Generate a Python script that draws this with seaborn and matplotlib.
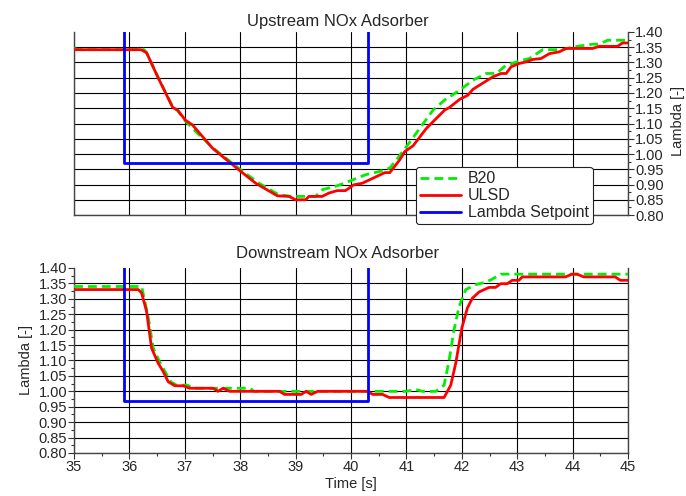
import numpy as np
import pandas as pd
import matplotlib
matplotlib.use("Agg")
import matplotlib.pyplot as plt
from matplotlib.ticker import MultipleLocator, FormatStrFormatter
import seaborn as sns

# ---------------- data ----------------
up_ulsd_t = [35.0, 36.21, 36.31, 36.51, 36.78, 36.87, 37.01, 37.14, 37.50, 37.68, 38.01, 38.28,
             38.67, 38.88, 39.00, 39.18, 39.24, 39.48, 39.60, 39.75, 39.90, 40.05, 40.20, 40.40,
             40.61, 40.70, 40.88, 40.97, 41.12, 41.36, 41.69, 41.78, 41.96, 42.11, 42.20, 42.56,
             42.71, 42.80, 42.89, 43.04, 43.16, 43.28, 43.43, 43.58, 43.76, 43.88, 44.36, 44.48,
             44.81, 44.90, 45.0]
up_ulsd_v = [1.342, 1.342, 1.332, 1.253, 1.153, 1.144, 1.111, 1.095, 1.019, 0.992, 0.943, 0.904,
             0.863, 0.861, 0.850, 0.850, 0.861, 0.861, 0.872, 0.880, 0.880, 0.899, 0.904, 0.921,
             0.939, 0.939, 0.981, 1.008, 1.027, 1.084, 1.144, 1.153, 1.179, 1.193, 1.212, 1.253,
             1.264, 1.264, 1.286, 1.297, 1.302, 1.310, 1.313, 1.329, 1.335, 1.346, 1.346, 1.353,
             1.353, 1.364, 1.364]

up_b20_t = [35.0, 35.08, 36.12, 36.22, 36.30, 36.51, 36.78, 36.87, 37.01, 37.20, 37.50, 37.68,
            38.01, 38.34, 38.70, 38.94, 39.36, 39.48, 39.72, 39.96, 40.26, 40.52, 40.70, 40.82,
            41.00, 41.24, 41.48, 41.69, 41.96, 42.20, 42.44, 42.62, 42.80, 43.10, 43.22, 43.46,
            43.82, 44.00, 44.36, 44.48, 44.63, 45.0]
up_b20_v = [1.346, 1.342, 1.342, 1.349, 1.335, 1.255, 1.155, 1.142, 1.108, 1.073, 1.021, 0.995,
            0.948, 0.904, 0.866, 0.861, 0.861, 0.883, 0.894, 0.910, 0.932, 0.943, 0.954, 0.981,
            1.024, 1.084, 1.144, 1.177, 1.209, 1.242, 1.264, 1.264, 1.291, 1.308, 1.313, 1.342,
            1.342, 1.351, 1.360, 1.360, 1.373, 1.373]

dn_ulsd_t = [35.0, 36.16, 36.22, 36.31, 36.40, 36.52, 36.61, 36.70, 36.82, 36.97, 37.09, 37.51,
             37.60, 37.69, 37.81, 38.71, 38.80, 39.10, 39.19, 39.28, 39.40, 40.30, 40.39, 40.57,
             40.69, 41.68, 41.80, 41.89, 42.00, 42.10, 42.19, 42.31, 42.49, 42.61, 42.70, 42.82,
             42.91, 43.03, 43.09, 43.87, 43.99, 44.08, 44.20, 44.77, 44.86, 45.0]
dn_ulsd_v = [1.33, 1.33, 1.319, 1.259, 1.14, 1.091, 1.064, 1.031, 1.018, 1.018, 1.01, 1.01,
             1.0, 1.01, 1.0, 1.0, 0.99, 0.99, 1.0, 0.99, 1.0, 1.0, 0.99, 0.99,
             0.98, 0.98, 1.02, 1.091, 1.205, 1.27, 1.302, 1.322, 1.337, 1.337, 1.349, 1.349,
             1.36, 1.36, 1.371, 1.371, 1.38, 1.38, 1.371, 1.371, 1.36, 1.36]

dn_b20_t = [35.0, 36.22, 36.28, 36.34, 36.43, 36.56, 36.75, 36.85, 37.05, 37.15, 38.17, 38.25,
            40.99, 41.17, 41.29, 41.53, 41.68, 41.77, 41.86, 41.95, 42.07, 42.25, 42.43, 42.55,
            42.70, 45.0]
dn_b20_v = [1.34, 1.34, 1.29, 1.24, 1.14, 1.09, 1.03, 1.02, 1.02, 1.01, 1.01, 1.0,
            1.0, 1.006, 1.0, 1.0, 1.02, 1.10, 1.20, 1.275, 1.33, 1.346, 1.354, 1.364,
            1.38, 1.38]

setpoint_t = [35.9, 35.9, 40.3, 40.3]
setpoint_v = [1.5, 0.97, 0.97, 1.5]

titles = ["Upstream NOx Adsorber", "Downstream NOx Adsorber"]
y_ticks = [0.80, 0.85, 0.90, 0.95, 1.00, 1.05, 1.10, 1.15, 1.20, 1.25, 1.30, 1.35, 1.40]
x_ticks = [35, 36, 37, 38, 39, 40, 41, 42, 43, 44, 45]

# ---------------- style ----------------
sns.set_theme(style="white")
plt.rcParams["font.family"] = ["Liberation Sans", "DejaVu Sans"]

GREEN = "#00ee00"
RED = "#ff0000"
BLUE = "#0000ff"
LW = 2.0

fig = plt.figure(figsize=(6.86, 4.96), dpi=100)
ax1 = fig.add_axes([0.1079, 0.5665, 0.8076, 0.369])
ax2 = fig.add_axes([0.1079, 0.0867, 0.8076, 0.373])

panels = [
    (ax1, up_b20_t, up_b20_v, up_ulsd_t, up_ulsd_v),
    (ax2, dn_b20_t, dn_b20_v, dn_ulsd_t, dn_ulsd_v),
]

for ax, bt, bv, ut, uv in panels:
    sns.lineplot(x=bt, y=bv, ax=ax, color=GREEN, lw=LW, estimator=None, sort=False,
                 label="B20", zorder=3)
    ax.lines[-1].set_dashes((3.2, 1.8))
    sns.lineplot(x=ut, y=uv, ax=ax, color=RED, lw=LW, estimator=None, sort=False,
                 label="ULSD", zorder=4)
    sns.lineplot(x=setpoint_t, y=setpoint_v, ax=ax, color=BLUE, lw=LW, estimator=None,
                 sort=False, label="Lambda Setpoint", zorder=5)
    ax.set_xlim(35, 45)
    ax.set_ylim(0.80, 1.40)
    ax.set_yticks(y_ticks)
    ax.yaxis.set_major_formatter(FormatStrFormatter("%.2f"))
    ax.yaxis.set_minor_locator(MultipleLocator(0.025))
    ax.set_xticks(x_ticks)
    ax.xaxis.set_minor_locator(MultipleLocator(0.5))
    ax.grid(True, which="major", color="black", lw=0.8)
    ax.set_axisbelow(True)
    for t in ax.yaxis.get_major_ticks()[-1:]:
        t.gridline.set_visible(False)
    ax.spines["top"].set_visible(False)
    for s in ["left", "bottom", "right"]:
        ax.spines[s].set_color("#444444")
        ax.spines[s].set_linewidth(1.0)
    ax.tick_params(which="major", direction="out", length=4, width=0.8, color="#333333",
                   labelsize=10.5, pad=1)
    ax.tick_params(which="minor", direction="out", length=2, width=0.8, color="#333333")
    ax.set_xlabel("")
    ax.set_ylabel("")
    leg = ax.get_legend()
    if leg is not None:
        leg.remove()

# top panel: right y axis, no x labels
ax1.yaxis.tick_right()
ax1.yaxis.set_ticks_position("right")
ax1.tick_params(axis="x", which="both", length=0, labelbottom=False)
ax1.tick_params(axis="y", which="both", left=False, right=True, labelleft=False, labelright=True)
ax1.set_title(titles[0], fontsize=12, x=0.4765, pad=4)

# bottom panel
ax2.tick_params(axis="y", which="both", left=True, right=False)
ax2.tick_params(axis="x", which="both", bottom=True)
ax2.set_title(titles[1], fontsize=12, x=0.4765, pad=7)
ax2.set_xlabel("Time [s]", fontsize=10.5, labelpad=2)
ax2.set_ylabel("Lambda [-]", fontsize=10.5, labelpad=4)

fig.text(678 / 686, 1 - 121 / 496, "Lambda [-]", rotation=90, ha="center", va="center",
         fontsize=10.5)

handles, labels = ax1.get_legend_handles_labels()
leg = ax1.legend(handles, labels, loc="upper left",
                 bbox_to_anchor=(415.7 / 686, 1 - 167.3 / 496),
                 bbox_transform=fig.transFigure,
                 fontsize=11.5, frameon=True, fancybox=True, framealpha=1,
                 edgecolor="#222222", handlelength=2.6, handletextpad=0.4,
                 labelspacing=0.12, borderpad=0.25, borderaxespad=0)
leg.get_frame().set_linewidth(0.8)
leg.set_zorder(10)
for h in leg.get_lines():
    h.set_linewidth(LW)

fig.savefig("out.png", dpi=100)
